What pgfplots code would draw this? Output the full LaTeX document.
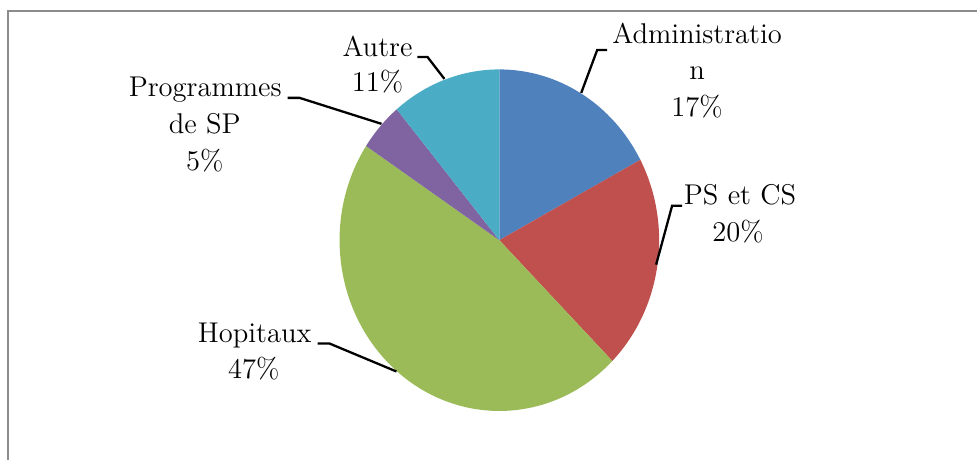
\documentclass[border=0pt]{standalone}
\usepackage{pgfplots}
\pgfplotsset{compat=1.18}
\definecolor{cAdm}{HTML}{4F81BD}
\definecolor{cPS}{HTML}{C0504D}
\definecolor{cHop}{HTML}{9BBB59}
\definecolor{cProg}{HTML}{8064A2}
\definecolor{cAut}{HTML}{4BACC6}
\definecolor{frame}{HTML}{8C8C8C}
% slice: colour, cumulative start (percent), value (percent)
\newcommand{\slice}[3]{%
  \fill[#1] (axis cs:500,220.5) -- ++({90-3.6*(#2)}:80pt and 85.5pt)
    arc[start angle={90-3.6*(#2)}, end angle={90-3.6*(#2+#3)}, x radius=80pt, y radius=85.5pt] -- cycle;}
\newcommand{\lab}[3]{\node[anchor=base, inner sep=0pt, font=\fontsize{14.3}{17}\selectfont] at (axis cs:#1,#2) {#3};}
\begin{document}
\begin{tikzpicture}
\begin{axis}[
  x=0.5pt, y=0.5pt,
  xmin=0, xmax=978, ymin=0, ymax=461,
  hide axis, clip=false,
]
% shares (percent): Administration, PS et CS, Hopitaux, Programmes de SP, Autre
\slice{cAdm}{0}{17.2}
\slice{cPS}{17.2}{20.3}
\slice{cHop}{37.5}{46.8}
\slice{cProg}{84.3}{4.6}
\slice{cAut}{88.9}{11.1}
% frame
\draw[frame, line width=1.3pt] (axis cs:8,0) -- (axis cs:8,450) -- (axis cs:978,450);
% leader lines
\draw[black, line width=1.15pt] (axis cs:582,368) -- (axis cs:598,411) -- (axis cs:608,411);
\draw[black, line width=1.15pt] (axis cs:657,196) -- (axis cs:673,255) -- (axis cs:683,255);
\draw[black, line width=1.15pt] (axis cs:318,117) -- (axis cs:330,117) -- (axis cs:397,89);
\draw[black, line width=1.15pt] (axis cs:288,363) -- (axis cs:300,363) -- (axis cs:382,337);
\draw[black, line width=1.15pt] (axis cs:418,404) -- (axis cs:428,404) -- (axis cs:445,382);
% labels
\lab{698}{417.5}{Administratio}
\lab{698}{381}{n}
\lab{698}{344.3}{17\%}
\lab{741}{256}{PS et CS}
\lab{739}{219.3}{20\%}
\lab{255}{117.7}{Hopitaux}
\lab{254}{82}{47\%}
\lab{205.5}{364.3}{Programmes}
\lab{205}{327.7}{de SP}
\lab{205}{290.3}{5\%}
\lab{378}{404}{Autre}
\lab{378}{369}{11\%}
\end{axis}
\path (current axis.south west) rectangle (current axis.north east);
\end{tikzpicture}
\end{document}
